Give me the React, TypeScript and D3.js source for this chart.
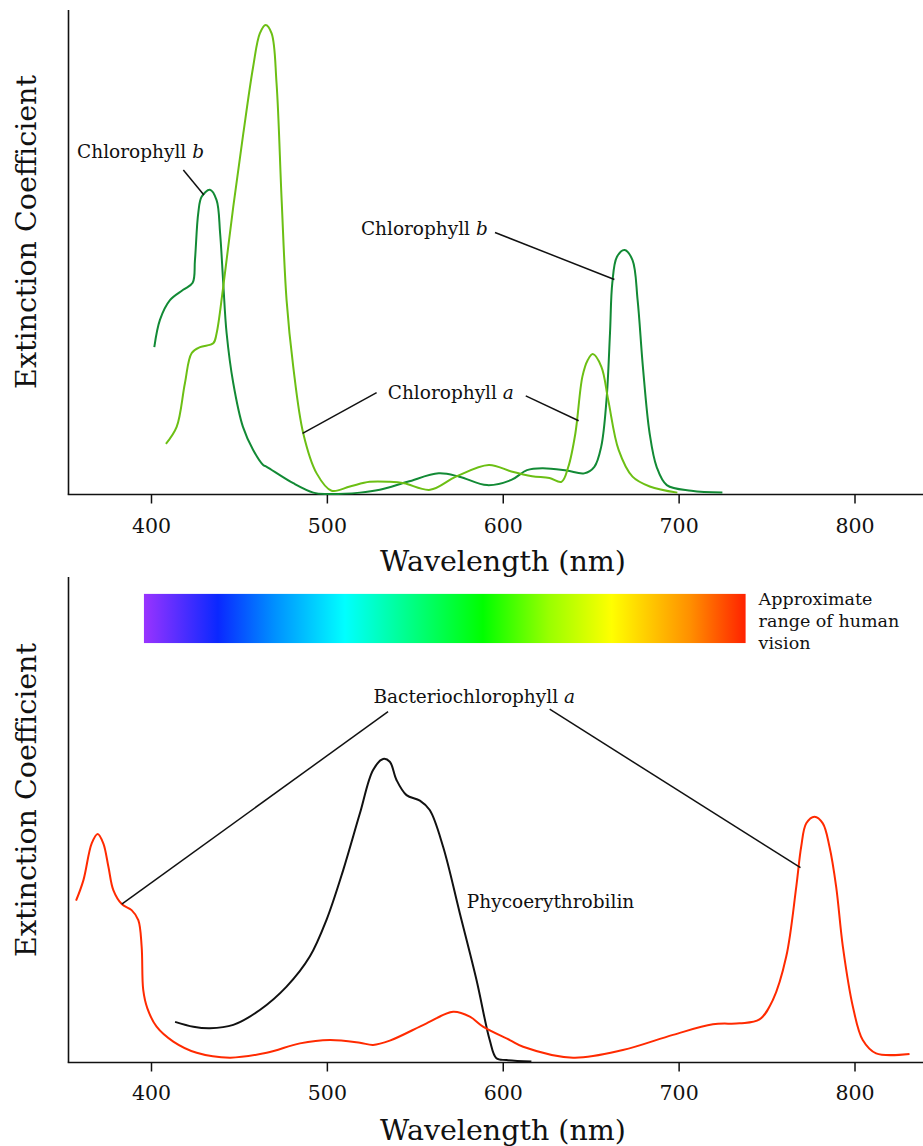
import React from "react";
import * as d3 from "d3";

// ---------- data (wavelength nm, relative extinction) ----------
const WAVE_TICKS = [400, 500, 600, 700, 800];

const chlorophyllB: [number, number][] = [
  [401.6, 31.4], [404.8, 37.2], [410.5, 41.4], [418, 43.6], [423.4, 45.1], [424.7, 49.9],
  [426.6, 60.0], [428.5, 63.4], [433.2, 64.9], [437, 62.7], [439, 55.7], [440.8, 45.0],
  [442.7, 34.4], [446.5, 23.7], [452, 14.4], [457.8, 9.5], [463.5, 6.3], [465.5, 5.9],
  [480.6, 2.4], [492, 0.4], [499.5, 0.1], [518.5, 0.4], [529.8, 1.0], [545.6, 2.7],
  [563.3, 4.5], [575, 3.8], [590.8, 2.0], [604.6, 3.1], [613.5, 5.2], [622.3, 5.6],
  [636, 5.1], [646, 4.5], [651.8, 5.9], [655.7, 10.2], [658.7, 20.1], [660.7, 34.4],
  [662, 45.0], [664.6, 50.6], [669, 52.1], [673.5, 49.9], [676.4, 41.4], [679.4, 27.2],
  [683.2, 13.1], [687.2, 5.9], [693, 2.0], [707, 0.8], [724.6, 0.4],
];

const chlorophyllA: [number, number][] = [
  [408.2, 10.8], [414.3, 14.4], [419, 23.7], [422.8, 30.1], [427.6, 31.4], [435.1, 32.2],
  [437, 34.3], [440.8, 44.3], [446.5, 61.3], [452.2, 76.9], [457.8, 91.1], [461.6, 98.2],
  [464.9, 100], [468.3, 98.2], [471.1, 87.6], [474, 62.7], [476.8, 41.4], [480.6, 27.2],
  [486.3, 13.0], [493.9, 4.5], [502.4, 0.8], [512.8, 1.7], [524, 2.7], [535.5, 2.7],
  [543.6, 2.4], [558.4, 1.0], [573.1, 3.8], [591.8, 6.3], [604.6, 4.9], [616.4, 3.9],
  [626.3, 3.5], [633.1, 2.7], [637, 5.9], [641, 13.0], [645, 25.1], [648, 28.6],
  [650.9, 29.9], [655.8, 27.2], [659.7, 20.1], [665.6, 9.5], [673.5, 3.8], [683.3, 1.7],
  [699, 0.4],
];

const bacteriochlorophyllA: [number, number][] = [
  [357.1, 53.3], [361.3, 60.1], [366, 72.2], [369.4, 75.3], [372.6, 72.2], [375.5, 64.5],
  [378.3, 56.8], [383.1, 52.2], [388.7, 50.2], [392.5, 46.9], [394.4, 38.2], [395.3, 23.9],
  [397.6, 17.9], [402.9, 11.8], [412.4, 6.9], [425.7, 3.2], [444.6, 1.6], [465.5, 3.2],
  [484.4, 6.3], [501.4, 7.4], [518.5, 6.5], [526, 5.8], [535.5, 7.2], [556.4, 12.9],
  [571.5, 16.7], [581, 15.1], [588.5, 11.8], [603.7, 7.4], [611.3, 5.2], [639.7, 1.6],
  [668, 4.1], [696.5, 9.1], [719.2, 12.6], [734.4, 12.9], [745.7, 14.2], [753.3, 20.6],
  [760.9, 34.9], [766.6, 57.9], [769.4, 71.1], [772.3, 78.8], [777, 81.0], [781.7, 78.8],
  [785.5, 71.1], [789.3, 57.9], [793.1, 38.2], [798.8, 18.4], [804.4, 7.4], [812, 3.0],
  [831, 2.8],
];

const phycoerythrobilin: [number, number][] = [
  [413.4, 13.4], [423.8, 11.8], [433.2, 11.3], [446.5, 12.4], [461.6, 17.3], [476.8, 25.0],
  [490, 34.9], [499.5, 47.0], [509, 63.4], [518.5, 82.1], [526, 96.4], [531.7, 100],
  [535.5, 99.1], [539.3, 93.1], [545, 88.1], [552.6, 86.3], [558.2, 83.2], [565.8, 71.1],
  [575.3, 49.2], [584.8, 27.2], [592.3, 7.4], [596.1, 1.4], [601.8, 0.8], [616, 0.3],
];

// spectrum bar: [nm, colour]
const spectrumStops: [number, string][] = [
  [395.7, "#9933ff"], [437.8, "#0a28ff"], [470, "#0090ff"], [510, "#00ffff"],
  [588.4, "#00ff00"], [626, "#99ff00"], [661.6, "#ffff00"], [706, "#ff9000"], [737.8, "#ff2200"],
];
const spectrumRange = [395.7, 737.8];
const spectrumValues = [138.2, 154.4];

// annotations (data coordinates)
const topLeaders: [number, number, number, number][] = [
  [418.1, 69.1, 429.8, 63.8],
  [595.3, 55.8, 663.2, 45.8],
  [612.8, 21.0, 642.9, 15.7],
  [528, 21.7, 485.9, 13.0],
];
const bottomLeaders: [number, number, number, number][] = [
  [534.5, 115.6, 383.1, 52.2],
  [626.4, 116.4, 769, 64.2],
];
const visionLines = ["Approximate", "range of human", "vision"];
const visionValues = [150.7, 143.6, 136.3];

const FONT = "'DejaVu Serif', serif";
const GREEN_DARK = "#128a35";
const GREEN_LIGHT = "#6cbf14";
const RED = "#ff2a00";

export default function App() {
  const W = 923;
  const H = 1146;
  const axisLeft = 68.5;
  const axisRight = 923;

  const x = d3.scaleLinear().domain([400, 800]).range([151.5, 855]);
  const yTop = d3.scaleLinear().domain([0, 100]).range([494.5, 25]);
  const yBot = d3.scaleLinear().domain([0, 100]).range([1062.5, 759]);
  const topAxisTop = 10;
  const botAxisTop = 577;

  const curve = d3.curveCatmullRom.alpha(0.5);
  const lineTop = d3
    .line<[number, number]>()
    .x((d) => x(d[0]))
    .y((d) => yTop(d[1]))
    .curve(curve);
  const lineBot = d3
    .line<[number, number]>()
    .x((d) => x(d[0]))
    .y((d) => yBot(d[1]))
    .curve(curve);

  const x0 = x(spectrumRange[0]);
  const x1 = x(spectrumRange[1]);

  const axis = (y0: number, yTopLine: number, labelY: number, titleY: number, titleCenterY: number) => (
    <g>
      <line x1={axisLeft} x2={axisLeft} y1={yTopLine} y2={y0} stroke="#111" strokeWidth={1.6} />
      <line x1={axisLeft - 0.8} x2={axisRight} y1={y0} y2={y0} stroke="#111" strokeWidth={1.6} />
      {WAVE_TICKS.map((t) => (
        <g key={t}>
          <line x1={x(t)} x2={x(t)} y1={y0} y2={y0 + 9} stroke="#111" strokeWidth={1.5} />
          <text x={x(t)} y={labelY} textAnchor="middle" fontFamily={FONT} fontSize={20.5} fill="#111">
            {t}
          </text>
        </g>
      ))}
      <text x={503} y={titleY} textAnchor="middle" fontFamily={FONT} fontSize={28.5} fill="#111">
        Wavelength (nm)
      </text>
      <text
        transform={`translate(36,${titleCenterY}) rotate(-90)`}
        textAnchor="middle"
        fontFamily={FONT}
        fontSize={28.5}
        fill="#111"
      >
        Extinction Coefficient
      </text>
    </g>
  );

  return (
    <svg
      width={W}
      height={H}
      viewBox={`0 0 ${W} ${H}`}
      style={{ position: "absolute", left: 0, top: 0, display: "block", background: "#fff" }}
    >
      <defs>
        <linearGradient id="spectrum" gradientUnits="userSpaceOnUse" x1={x0} x2={x1} y1={0} y2={0}>
          {spectrumStops.map(([nm, c], i) => (
            <stop key={i} offset={(x(nm) - x0) / (x1 - x0)} stopColor={c} />
          ))}
        </linearGradient>
      </defs>
      <rect width={W} height={H} fill="#fff" />

      {/* ---------- top panel ---------- */}
      {axis(yTop(0), topAxisTop, 533, 571, 232)}
      <path d={lineTop(chlorophyllB) || ""} fill="none" stroke={GREEN_DARK} strokeWidth={2} />
      <path d={lineTop(chlorophyllA) || ""} fill="none" stroke={GREEN_LIGHT} strokeWidth={2} />
      {topLeaders.map((l, i) => (
        <line key={i} x1={x(l[0])} y1={yTop(l[1])} x2={x(l[2])} y2={yTop(l[3])} stroke="#111" strokeWidth={1.5} />
      ))}
      <text x={x(357.7)} y={yTop(71.7)} fontFamily={FONT} fontSize={18.5} fill="#111">
        Chlorophyll <tspan fontStyle="italic">b</tspan>
      </text>
      <text x={x(591.2)} y={yTop(55.3)} textAnchor="end" fontFamily={FONT} fontSize={18.5} fill="#111">
        Chlorophyll <tspan fontStyle="italic">b</tspan>
      </text>
      <text x={x(570.2)} y={yTop(20.4)} textAnchor="middle" fontFamily={FONT} fontSize={18.5} fill="#111">
        Chlorophyll <tspan fontStyle="italic">a</tspan>
      </text>

      {/* ---------- bottom panel ---------- */}
      {axis(yBot(0), botAxisTop, 1100, 1140, 800)}
      <rect
        x={x0}
        width={x1 - x0}
        y={yBot(spectrumValues[1])}
        height={yBot(spectrumValues[0]) - yBot(spectrumValues[1])}
        fill="url(#spectrum)"
      />
      {visionLines.map((t, i) => (
        <text key={i} x={x(745.2)} y={yBot(visionValues[i])} fontFamily={FONT} fontSize={17.5} fill="#111">
          {t}
        </text>
      ))}
      <path d={lineBot(phycoerythrobilin) || ""} fill="none" stroke="#111" strokeWidth={2} />
      <path d={lineBot(bacteriochlorophyllA) || ""} fill="none" stroke={RED} strokeWidth={2} />
      {bottomLeaders.map((l, i) => (
        <line key={i} x1={x(l[0])} y1={yBot(l[1])} x2={x(l[2])} y2={yBot(l[3])} stroke="#111" strokeWidth={1.5} />
      ))}
      <text x={x(583.5)} y={yBot(118.5)} textAnchor="middle" fontFamily={FONT} fontSize={18.5} fill="#111">
        Bacteriochlorophyll <tspan fontStyle="italic">a</tspan>
      </text>
      <text x={x(579.3)} y={yBot(50.9)} fontFamily={FONT} fontSize={18.5} fill="#111">
        Phycoerythrobilin
      </text>
    </svg>
  );
}
